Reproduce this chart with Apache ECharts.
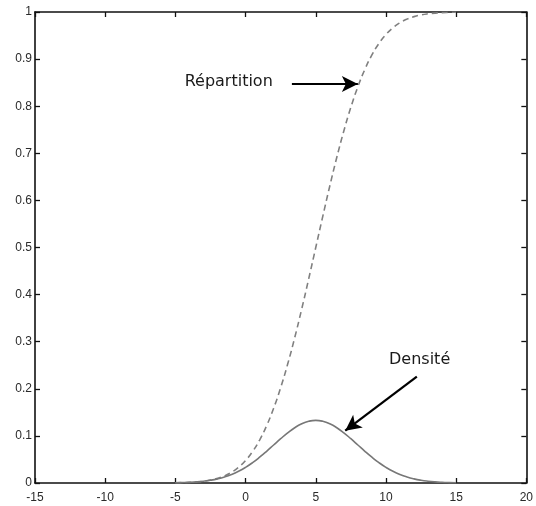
<!DOCTYPE html>
<html>
<head>
<meta charset="utf-8">
<script src="https://cdn.jsdelivr.net/npm/echarts@6/dist/echarts.min.js"></script>
<style>
  html, body { margin: 0; padding: 0; background: #fff; }
  #chart { width: 536px; height: 506px; }
</style>
</head>
<body>
<div id="chart"></div>
<script>
// x positions
const xs = [-5, -4.5, -4, -3.5, -3, -2.5, -2, -1.5, -1, -0.5, 0, 0.5, 1, 1.5, 2, 2.5, 3, 3.5, 4, 4.5,
  5, 5.5, 6, 6.5, 7, 7.5, 8, 8.5, 9, 9.5, 10, 10.5, 11, 11.5, 12, 12.5, 13, 13.5, 14, 14.5, 15]

// Répartition (dashed)
const repartition = [0.0004, 0.0008, 0.0013, 0.0023, 0.0038, 0.0062, 0.0098, 0.0151, 0.0228, 0.0334,
  0.0478, 0.0668, 0.0912, 0.1217, 0.1587, 0.2023, 0.2525, 0.3085, 0.3694, 0.4338,
  0.5, 0.5662, 0.6306, 0.6915, 0.7475, 0.7977, 0.8413, 0.8783, 0.9088, 0.9332,
  0.9522, 0.9666, 0.9772, 0.9849, 0.9902, 0.9938, 0.9962, 0.9977, 0.9987, 0.9992, 0.9996]

// Densité (solid)
const densite = [0.0005, 0.0009, 0.0015, 0.0024, 0.0038, 0.0058, 0.0087, 0.0127, 0.0180, 0.0248,
  0.0332, 0.0432, 0.0547, 0.0673, 0.0807, 0.0940, 0.1065, 0.1174, 0.1258, 0.1311,
  0.1330, 0.1311, 0.1258, 0.1174, 0.1065, 0.0940, 0.0807, 0.0673, 0.0547, 0.0432,
  0.0332, 0.0248, 0.0180, 0.0127, 0.0087, 0.0058, 0.0038, 0.0024, 0.0015, 0.0009, 0.0005]

// annotations, in data units
const repLabel = { text: 'Répartition', at: [-1.2, 0.851] }
const repArrow = [[3.3, 0.847], [8.0, 0.847]]
const denLabel = { text: 'Densité', at: [12.4, 0.262] }
const denArrow = [[12.2, 0.226], [7.1, 0.111]]

const pair = (a, b) => a.map((v, i) => [v, b[i]])

const chart = echarts.init(document.getElementById('chart'))

const labelFont = { color: '#2a2a2a', fontSize: 12, fontFamily: 'Liberation Sans, Arial, sans-serif' }
const boxLine = { show: true, onZero: false, lineStyle: { color: '#111', width: 1.6 } }
const inTick = { show: true, inside: true, length: 5, lineStyle: { color: '#111', width: 1.3 } }

function arrowLine(pts) {
  return {
    silent: true,
    symbol: ['none', 'arrow'],
    symbolSize: [12, 16],
    label: { show: false },
    emphasis: { disabled: true },
    lineStyle: { color: '#000', width: 2.2, type: 'solid' },
    data: [[{ coord: pts[0] }, { coord: pts[1] }]]
  }
}

function textPoint(lab) {
  return {
    silent: true,
    symbol: 'circle',
    symbolSize: 0,
    label: {
      show: true,
      position: 'inside',
      formatter: lab.text,
      color: '#1a1a1a',
      fontSize: 16,
      fontFamily: 'DejaVu Sans, sans-serif'
    },
    data: [{ coord: lab.at }]
  }
}

chart.setOption({
  animation: false,
  backgroundColor: '#fff',
  grid: { left: 35, right: 6, top: 12, bottom: 23 },
  xAxis: [
    {
      type: 'value', min: -15, max: 20, interval: 5,
      axisLine: boxLine, axisTick: inTick, splitLine: { show: false },
      axisLabel: Object.assign({ margin: 9 }, labelFont)
    },
    {
      type: 'value', position: 'top', min: -15, max: 20, interval: 5,
      axisLine: boxLine, axisTick: inTick, splitLine: { show: false },
      axisLabel: { show: false }
    }
  ],
  yAxis: [
    {
      type: 'value', min: 0, max: 1, interval: 0.1,
      axisLine: boxLine, axisTick: inTick, splitLine: { show: false },
      axisLabel: Object.assign({ margin: 3 }, labelFont)
    },
    {
      type: 'value', position: 'right', min: 0, max: 1, interval: 0.1,
      axisLine: boxLine, axisTick: inTick, splitLine: { show: false },
      axisLabel: { show: false }
    }
  ],
  series: [
    {
      name: 'Répartition',
      type: 'line',
      data: pair(xs, repartition),
      smooth: true,
      showSymbol: false,
      lineStyle: { color: '#808080', width: 1.6, type: [6, 4] },
      markLine: arrowLine(repArrow),
      markPoint: textPoint(repLabel)
    },
    {
      name: 'Densité',
      type: 'line',
      data: pair(xs, densite),
      smooth: true,
      showSymbol: false,
      lineStyle: { color: '#777', width: 1.6 },
      markLine: arrowLine(denArrow),
      markPoint: textPoint(denLabel)
    }
  ]
})
</script>
</body>
</html>
